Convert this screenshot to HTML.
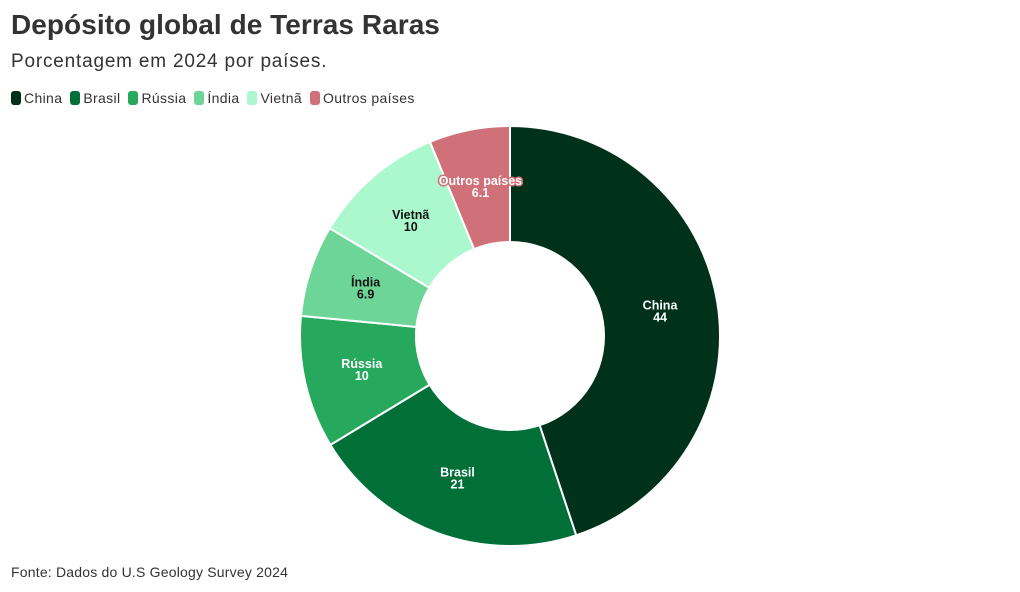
<!DOCTYPE html>
<html><head><meta charset="utf-8"><style>
body{margin:0;background:#fff;width:1020px;height:592px;overflow:hidden;font-family:"Liberation Sans",sans-serif;color:#333}
h1{position:absolute;left:11px;top:9px;margin:0;font-size:28px;font-weight:bold;color:#333;letter-spacing:0.05px}
.sub{position:absolute;left:11px;top:51px;font-size:19px;color:#333;letter-spacing:0.8px}
.leg{position:absolute;left:11px;top:90px;font-size:14px;color:#333;display:flex;gap:8px;letter-spacing:0.35px}
.leg span{display:flex;align-items:center}
.leg i{display:inline-block;width:10px;height:14px;border-radius:3px;margin-right:3px}
.src{position:absolute;left:11px;top:564px;font-size:14px;color:#333;letter-spacing:0.2px}
svg{position:absolute;left:0;top:0}
text{font-family:"Liberation Sans",sans-serif;font-size:12.5px;font-weight:bold;text-anchor:middle}
</style></head><body>
<h1>Depósito global de Terras Raras</h1>
<div class="sub">Porcentagem em 2024 por países.</div>
<div class="leg">
<span><i style="background:#00311a"></i>China</span>
<span><i style="background:#007038"></i>Brasil</span>
<span><i style="background:#26a95c"></i>Rússia</span>
<span><i style="background:#6dd598"></i>Índia</span>
<span><i style="background:#abf7ce"></i>Vietnã</span>
<span><i style="background:#d07078"></i>Outros países</span>
</div>
<svg id="s" width="1020" height="592"></svg>
<div class="src">Fonte: Dados do U.S Geology Survey 2024</div>
<script>
var d=[["China",44,"#00311a","#fff"],["Brasil",21,"#007038","#fff"],["Rússia",10,"#26a95c","#fff"],["Índia",6.9,"#6dd598","#111"],["Vietnã",10,"#abf7ce","#111"],["Outros países",6.1,"#d07078","#fff"]];
var cx=510,cy=336,R=210,r=94,tot=98,a=0,s="",t="";
function P(rad,ang){return [cx+rad*Math.sin(ang),cy-rad*Math.cos(ang)]}
d.forEach(function(e){
 var a0=a,a1=a+e[1]/tot*2*Math.PI;a=a1;
 var lg=(a1-a0)>Math.PI?1:0;
 var p1=P(R,a0),p2=P(R,a1),p3=P(r,a1),p4=P(r,a0);
 s+='<path d="M'+p1+' A'+R+' '+R+' 0 '+lg+' 1 '+p2+' L'+p3+' A'+r+' '+r+' 0 '+lg+' 0 '+p4+' Z" fill="'+e[2]+'" stroke="#fff" stroke-width="2" stroke-linejoin="round"/>';
 var m=(a0+a1)/2,l=P((R+r)/2,m);
 var st=e[3]=="#fff"?' stroke="'+e[2]+'" stroke-width="3" paint-order="stroke"':'';
 t+='<text x="'+l[0]+'" y="'+(l[1]-2)+'" fill="'+e[3]+'"'+st+'>'+e[0]+'</text><text x="'+l[0]+'" y="'+(l[1]+10)+'" fill="'+e[3]+'"'+st+'>'+e[1]+'</text>';
});
document.getElementById("s").innerHTML=s+t;
</script>
</body></html>
